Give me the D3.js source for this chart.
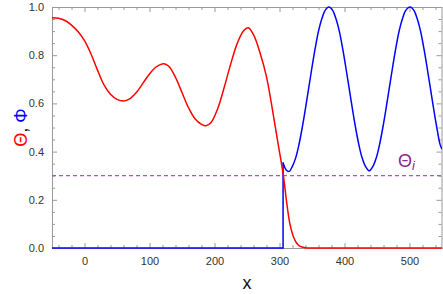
<!DOCTYPE html>
<html>
<head>
<meta charset="utf-8">
<script src="https://cdn.jsdelivr.net/npm/d3@7"></script>
<style>
  body { margin: 0; background: #fff; }
  svg { display: block; font-family: "Liberation Sans", Arial, sans-serif; }
</style>
</head>
<body>
<div id="chart"></div>
<script>
// Θ (red)
const thetaX = [-50, -40, -30, -20, -10, 0, 10, 20, 30, 40, 50, 60, 70, 80, 90, 100, 110, 122,
  130, 140, 150, 160, 170, 180, 187, 195, 205, 215, 225, 235, 245, 252, 260, 270, 280, 290,
  298, 306, 311, 316, 321, 326, 331, 340, 350, 550];
const thetaY = [0.955, 0.953, 0.944, 0.925, 0.898, 0.86, 0.805, 0.738, 0.677, 0.638, 0.617, 0.61,
  0.62, 0.646, 0.684, 0.722, 0.751, 0.765, 0.753, 0.708, 0.645, 0.582, 0.536, 0.513, 0.507,
  0.522, 0.579, 0.667, 0.764, 0.849, 0.902, 0.914, 0.885, 0.81, 0.71, 0.56, 0.43, 0.30, 0.19,
  0.10, 0.05, 0.022, 0.008, 0.001, 0, 0];

// Φ (blue): zero up to the jump, then oscillating
const phiJump = 305.5;
const phiX = [305.5, 306, 310, 315, 320, 325, 330, 335, 340, 345, 350, 355, 360,
  365, 370, 376, 382, 387, 392, 397, 402, 407, 412, 417, 422, 427, 432, 438, 444, 449, 454,
  459, 464, 469, 474, 479, 484, 489, 494, 501, 507, 512, 517, 522, 527, 532, 537, 542, 547, 550];
const phiY = [0.355, 0.35, 0.325, 0.318, 0.34, 0.375, 0.43, 0.50, 0.58, 0.665, 0.75, 0.83,
  0.90, 0.95, 0.985, 1.0, 0.985, 0.95, 0.90, 0.83, 0.75, 0.665, 0.58, 0.50, 0.43, 0.375, 0.34,
  0.32, 0.34, 0.375, 0.43, 0.50, 0.58, 0.665, 0.75, 0.83, 0.90, 0.95, 0.985, 1.0, 0.985, 0.95,
  0.90, 0.83, 0.75, 0.665, 0.58, 0.50, 0.43, 0.41];

const thetaI = 0.3;
const xTicks = [0, 100, 200, 300, 400, 500];
const yTicks = [0, 0.2, 0.4, 0.6, 0.8, 1.0];

const width = 443, height = 294;
const margin = { top: 7, right: 1, bottom: 46, left: 52 };

const x = d3.scaleLinear().domain([-50, 550]).range([margin.left, width - margin.right]);
const y = d3.scaleLinear().domain([0, 1]).range([height - margin.bottom, margin.top]);

const svg = d3.select('#chart').append('svg')
  .attr('width', width)
  .attr('height', height);

const xMinor = d3.range(-40, 551, 20).filter((v) => v % 100 !== 0);
const yMinor = d3.range(0, 1.001, 0.05).filter((_, i) => i % 4 !== 0);

function styleAxis(g) {
  g.select('.domain').attr('stroke', '#9a9a9a');
  g.selectAll('.tick line').attr('stroke', '#9a9a9a');
  g.selectAll('.tick text').attr('fill', '#333').attr('font-size', 11);
}

// frame: bottom / top / left / right with inward ticks
const axBottom = svg.append('g').attr('transform', `translate(0,${y(0)})`);
axBottom.call(d3.axisBottom(x).tickValues(xTicks).tickSizeInner(-5).tickSizeOuter(0).tickPadding(9));
axBottom.append('g').call(d3.axisBottom(x).tickValues(xMinor).tickSize(-3).tickFormat(''))
  .select('.domain').remove();
styleAxis(axBottom);

const axTop = svg.append('g').attr('transform', `translate(0,${y(1)})`);
axTop.call(d3.axisTop(x).tickValues(xTicks).tickSizeInner(-5).tickSizeOuter(0).tickFormat(''));
axTop.append('g').call(d3.axisTop(x).tickValues(xMinor).tickSize(-3).tickFormat(''))
  .select('.domain').remove();
styleAxis(axTop);

const axLeft = svg.append('g').attr('transform', `translate(${x(-50)},0)`);
axLeft.call(d3.axisLeft(y).tickValues(yTicks).tickSizeInner(-5).tickSizeOuter(0).tickPadding(8)
  .tickFormat(d3.format('.1f')));
axLeft.append('g').call(d3.axisLeft(y).tickValues(yMinor).tickSize(-3).tickFormat(''))
  .select('.domain').remove();
styleAxis(axLeft);

const axRight = svg.append('g').attr('transform', `translate(${x(550) - 0.5},0)`);
axRight.call(d3.axisRight(y).tickValues(yTicks).tickSizeInner(-5).tickSizeOuter(0).tickFormat(''));
axRight.append('g').call(d3.axisRight(y).tickValues(yMinor).tickSize(-3).tickFormat(''))
  .select('.domain').remove();
styleAxis(axRight);

// threshold Θ_i
svg.append('line')
  .attr('x1', x(-50)).attr('x2', x(550))
  .attr('y1', y(thetaI)).attr('y2', y(thetaI))
  .attr('stroke', '#bb4fbb')
  .attr('stroke-width', 1.3)
  .attr('stroke-dasharray', '4,3');

svg.append('clipPath').attr('id', 'plot')
  .append('rect')
  .attr('x', x(-50)).attr('y', y(1) - 2)
  .attr('width', x(550) - x(-50)).attr('height', y(0) - y(1) + 4);

const line = d3.line()
  .x((d) => x(d[0]))
  .y((d) => y(d[1]))
  .curve(d3.curveCatmullRom.alpha(0.5));

const straight = d3.line()
  .x((d) => x(d[0]))
  .y((d) => y(d[1]));

// Φ = 0 until the jump
svg.append('path')
  .datum([[-50, 0], [phiJump, 0], [phiJump, phiY[0]]])
  .attr('clip-path', 'url(#plot)')
  .attr('fill', 'none')
  .attr('stroke', '#0000ff')
  .attr('stroke-width', 1.5)
  .attr('d', straight);

svg.append('path')
  .datum(phiX.map((v, i) => [v, phiY[i]]))
  .attr('clip-path', 'url(#plot)')
  .attr('fill', 'none')
  .attr('stroke', '#0000ff')
  .attr('stroke-width', 1.5)
  .attr('d', line);

svg.append('path')
  .datum(thetaX.map((v, i) => [v, thetaY[i]]))
  .attr('clip-path', 'url(#plot)')
  .attr('fill', 'none')
  .attr('stroke', '#ff0000')
  .attr('stroke-width', 1.5)
  .attr('d', line);

// labels
svg.append('text')
  .attr('x', (x(-50) + x(550)) / 2)
  .attr('y', 289)
  .attr('text-anchor', 'middle')
  .attr('font-size', 18)
  .attr('fill', '#111')
  .text('x');

const yl = svg.append('text')
  .attr('transform', `translate(27,${(y(0) + y(1)) / 2}) rotate(-90)`)
  .attr('text-anchor', 'middle')
  .attr('font-size', 18);
yl.append('tspan').attr('fill', '#ff0000').text('Θ');
yl.append('tspan').attr('fill', '#111').text(', ');
yl.append('tspan').attr('fill', '#0000ff').text('Φ');

const ti = svg.append('text')
  .attr('x', 398)
  .attr('y', y(thetaI) - 9)
  .attr('font-size', 18)
  .attr('fill', '#8a2a8a');
ti.append('tspan').text('Θ');
ti.append('tspan').attr('font-size', 13).attr('font-style', 'italic').attr('dy', 3).text('i');
</script>
</body>
</html>
